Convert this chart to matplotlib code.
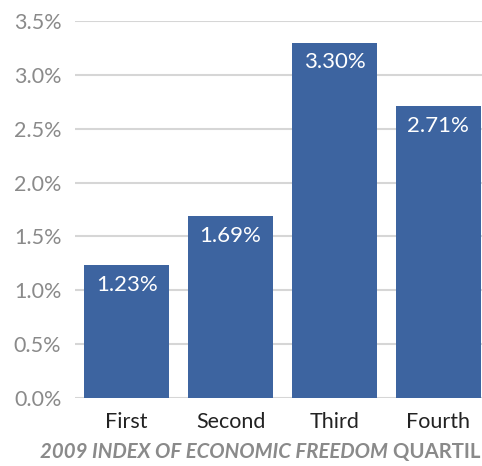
import matplotlib.pyplot as plt
from matplotlib.ticker import FuncFormatter

quartiles = ['First', 'Second', 'Third', 'Fourth']
growth = [1.23, 1.69, 3.30, 2.71]
yticks = [0.0, 0.5, 1.0, 1.5, 2.0, 2.5, 3.0, 3.5]

bar_color = '#3d64a0'
grid_color = '#d6d6d6'
grey = '#8a8a8a'

plt.rcParams['font.family'] = ['Lato', 'DejaVu Sans']

fig = plt.figure(figsize=(4.82, 4.66), dpi=100)
ax = fig.add_axes([0.156, 0.146, 0.844, 0.809])

x = range(len(quartiles))
bars = ax.bar(x, growth, width=0.82, color=bar_color, zorder=2)

# value labels sit inside the top of each bar
for b, v in zip(bars, growth):
    ax.annotate(f'{v:.2f}%', xy=(b.get_x() + b.get_width() / 2, v),
                xytext=(0, -7), textcoords='offset points',
                ha='center', va='top', color='white', fontsize=16)

ax.set_ylim(0, 3.5)
ax.set_xlim(-0.495, 3.42)
ax.set_yticks(yticks)
ax.yaxis.set_major_formatter(FuncFormatter(lambda v, _: f'{v:.1f}%'))
ax.set_xticks(list(x))
ax.set_xticklabels(quartiles)

ax.tick_params(axis='y', length=0, pad=10, labelsize=15.5, labelcolor=grey)
ax.tick_params(axis='x', length=0, pad=10, labelsize=15.5, labelcolor='#222222')
ax.yaxis.grid(True, color=grid_color, linewidth=1.5, zorder=0)
ax.set_axisbelow(True)
for s in ax.spines.values():
    s.set_visible(False)

# axis title: italic part followed by upright part
t1 = fig.text(40 / 482, 4 / 466, '2009 INDEX OF ECONOMIC FREEDOM', fontsize=14.7,
              fontweight='bold', fontstyle='italic', color=grey, ha='left', va='bottom')
ax.annotate(' QUARTIL', xy=(1, 0), xycoords=t1, ha='left', va='bottom',
            fontsize=14.7, fontweight='bold', color=grey)

fig.savefig('out.png', dpi=100)
